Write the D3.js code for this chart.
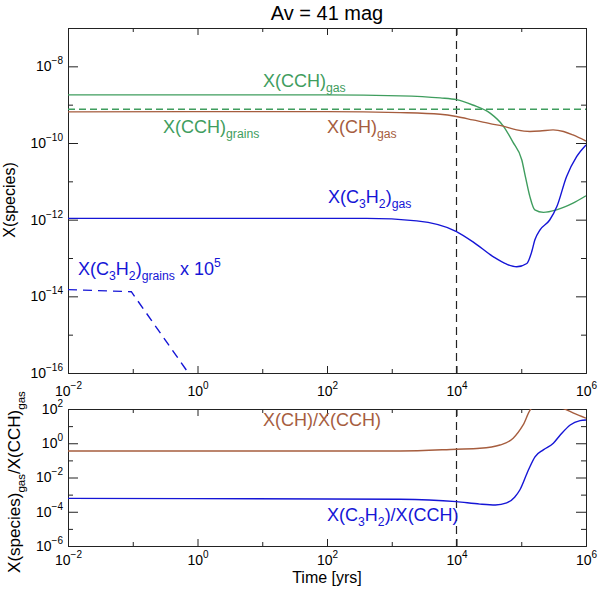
<!DOCTYPE html>
<html lang="en">
<head>
<meta charset="UTF-8">
<title>Av = 41 mag</title>
<script src="https://cdn.jsdelivr.net/npm/d3@7"></script>
<style>
  body { margin: 0; background: #fff; }
  svg { font-family: "Liberation Sans", Arial, Helvetica, sans-serif; }
</style>
</head>
<body>
<div id="chart"></div>
<script>
// ---- data ----
var xMajor = [1e-2, 1, 1e2, 1e4, 1e6];
var xMinor = [1e-1, 1e1, 1e3, 1e5];
var xExp = ["\u22122", "0", "2", "4", "6"];

var topMajor = [1e-16, 1e-14, 1e-12, 1e-10, 1e-8];
var topMinor = [1e-15, 1e-13, 1e-11, 1e-9];
var topExp = ["\u221216", "\u221214", "\u221212", "\u221210", "\u22128"];

var botMajor = [1e-6, 1e-4, 1e-2, 1, 1e2];
var botMinor = [1e-5, 1e-3, 1e-1, 1e1];
var botExp = ["\u22126", "\u22124", "\u22122", "0", "2"];

var markTime = 1e4;

// X(CCH) gas
var cchT = [1e-2, 1e2, 1.35e3, 5.6e3, 1e4, 1.78e4, 3.3e4, 5.25e4, 7.4e4, 1.02e5, 1.17e5, 1.36e5, 1.62e5, 2.2e5, 3.5e5, 6.3e5, 1e6];
var cchX = [1.8e-9, 1.8e-9, 1.7e-9, 1.5e-9, 1.35e-9, 9.8e-10, 6.0e-10, 2.8e-10, 1.07e-10, 3.6e-11, 1.23e-11, 4.0e-12, 1.8e-12, 1.55e-12, 1.8e-12, 2.7e-12, 4.2e-12];

// X(CCH) grains
var cchGrT = [1e-2, 1e6];
var cchGrX = [7.6e-10, 7.6e-10];

// X(CH) gas
var chT = [1e-2, 1e2, 1.35e3, 5.6e3, 1e4, 1.78e4, 3.3e4, 5.25e4, 8.5e4, 1.36e5, 1.95e5, 3.1e5, 4.5e5, 6.3e5, 1e6];
var chX = [6.5e-10, 6.6e-10, 6.2e-10, 5.6e-10, 4.9e-10, 4.0e-10, 3.2e-10, 2.75e-10, 2.2e-10, 2.0e-10, 2.05e-10, 2.2e-10, 2.0e-10, 1.62e-10, 1.12e-10];

// X(C3H2) gas
var c3T = [1e-2, 4.1e2, 2.43e3, 1e4, 1.82e4, 3.72e4, 5.96e4, 8.5e4, 1.22e5, 1.45e5, 1.62e5, 1.95e5, 2.75e5, 3.55e5, 5.0e5, 7.16e5, 1e6];
var c3X = [1.08e-12, 1.08e-12, 9.3e-13, 4.9e-13, 2.6e-13, 1.07e-13, 6.9e-14, 5.9e-14, 7.2e-14, 1.45e-13, 2.95e-13, 5.4e-13, 9.8e-13, 2.2e-12, 1.32e-11, 4.4e-11, 8.9e-11];

// X(C3H2) grains x 1e5
var c3GrT = [1e-2, 9.5e-2, 1];
var c3GrX = [1.5e-14, 1.32e-14, 4.6e-17];

// X(CH)/X(CCH)
var rChT = [1e-2, 1.35e3, 1e4, 2.3e4, 4.7e4, 7.5e4, 1.07e5, 1.45e5, 2.0e5, 2.8e5, 4.5e5, 6.3e5, 1e6];
var rChV = [0.355, 0.355, 0.45, 0.51, 0.79, 1.95, 11.7, 110, 140, 140, 105, 59, 29];

// X(C3H2)/X(CCH)
var rC3T = [1e-2, 1.35e3, 1e4, 2.3e4, 4.0e4, 5.96e4, 7.9e4, 9.5e4, 1.29e5, 1.63e5, 2.19e5, 3.13e5, 4.0e5, 5.7e5, 8.1e5, 1e6];
var rC3V = [6.0e-4, 5.4e-4, 3.9e-4, 2.8e-4, 2.5e-4, 3.3e-4, 7.1e-4, 1.86e-3, 2.75e-2, 0.162, 0.41, 1.0, 3.0, 11.7, 20.9, 22.9];

// ---- chart ----
var W = 600, H = 591;
var green = "#3f9d5e", brown = "#a65d3e", blue = "#1515d6";

var svg = d3.select("#chart").append("svg")
    .attr("width", W)
    .attr("height", H);

var x = d3.scaleLog().domain([1e-2, 1e6]).range([68, 586]);
var yTop = d3.scaleLog().domain([1e-16, 1e-7]).range([373, 28]);
var yBot = d3.scaleLog().domain([1e-6, 1e2]).range([546, 409]);

function supLabels(g, labels) {
    g.selectAll(".tick text").each(function (d, i) {
        var t = d3.select(this);
        t.text(null);
        t.append("tspan").text("10");
        t.append("tspan").attr("dy", -7).attr("font-size", 10).text(labels[i]);
    });
}

function styleAxis(g) {
    g.select(".domain").attr("stroke", "#222");
    g.selectAll(".tick line").attr("stroke", "#222");
    g.selectAll(".tick text").attr("fill", "#000").attr("font-size", 14)
        .attr("font-family", "Liberation Sans, Arial, sans-serif");
}

function drawPanel(y, yMajor, yMinor, yExp, xPad, id) {
    var r = y.range(), x0 = x.range()[0], x1 = x.range()[1];
    var bottom = r[0], top = r[1];

    var gx = svg.append("g").attr("transform", "translate(0," + bottom + ")")
        .call(d3.axisBottom(x).tickValues(xMajor).tickSize(-7).tickSizeOuter(0).tickPadding(xPad).tickFormat(""));
    gx.call(styleAxis); supLabels(gx, xExp);
    svg.append("g").attr("transform", "translate(0," + bottom + ")")
        .call(d3.axisBottom(x).tickValues(xMinor).tickSize(-4).tickSizeOuter(0).tickFormat(""))
        .call(styleAxis);
    svg.append("g").attr("transform", "translate(0," + top + ")")
        .call(d3.axisTop(x).tickValues(xMajor).tickSize(-7).tickSizeOuter(0).tickFormat(""))
        .call(styleAxis);
    svg.append("g").attr("transform", "translate(0," + top + ")")
        .call(d3.axisTop(x).tickValues(xMinor).tickSize(-4).tickSizeOuter(0).tickFormat(""))
        .call(styleAxis);

    var gy = svg.append("g").attr("transform", "translate(" + x0 + ",0)")
        .call(d3.axisLeft(y).tickValues(yMajor).tickSize(-10).tickSizeOuter(0).tickPadding(5).tickFormat(""));
    gy.call(styleAxis); supLabels(gy, yExp);
    svg.append("g").attr("transform", "translate(" + x0 + ",0)")
        .call(d3.axisLeft(y).tickValues(yMinor).tickSize(-5).tickSizeOuter(0).tickFormat(""))
        .call(styleAxis);
    svg.append("g").attr("transform", "translate(" + x1 + ",0)")
        .call(d3.axisRight(y).tickValues(yMajor).tickSize(-10).tickSizeOuter(0).tickFormat(""))
        .call(styleAxis);
    svg.append("g").attr("transform", "translate(" + x1 + ",0)")
        .call(d3.axisRight(y).tickValues(yMinor).tickSize(-5).tickSizeOuter(0).tickFormat(""))
        .call(styleAxis);

    svg.append("clipPath").attr("id", id)
        .append("rect").attr("x", x0).attr("y", top).attr("width", x1 - x0).attr("height", bottom - top);

    var plot = svg.append("g").attr("clip-path", "url(#" + id + ")");

    plot.append("line")
        .attr("x1", x(markTime)).attr("x2", x(markTime))
        .attr("y1", top).attr("y2", bottom)
        .attr("stroke", "#222").attr("stroke-width", 1.2)
        .attr("stroke-dasharray", "8,5");
    return plot;
}

function curve(plot, y, t, v, color, dash, interp) {
    var line = d3.line()
        .x(function (d) { return x(d[0]); })
        .y(function (d) { return y(d[1]); })
        .curve(interp || d3.curveMonotoneX);
    plot.append("path")
        .datum(d3.zip(t, v))
        .attr("d", line)
        .attr("fill", "none")
        .attr("stroke", color)
        .attr("stroke-width", 1.4)
        .attr("stroke-dasharray", dash || null);
}

// parts: [text, "sub" | "sup" | ""]
function label(x0, y0, parts, color, size) {
    var t = svg.append("text").attr("x", x0).attr("y", y0)
        .attr("fill", color).attr("font-size", size);
    var shift = 0;
    parts.forEach(function (p) {
        var target = p[1] === "sub" ? 5 : (p[1] === "sup" ? -8 : 0);
        t.append("tspan")
            .attr("dy", target - shift)
            .attr("font-size", p[1] ? size * 0.68 : size)
            .text(p[0]);
        shift = target;
    });
    return t;
}

// top panel
var pTop = drawPanel(yTop, topMajor, topMinor, topExp, 13, "clipTop");
curve(pTop, yTop, cchGrT, cchGrX, green, "7,4", d3.curveLinear);
curve(pTop, yTop, cchT, cchX, green);
curve(pTop, yTop, chT, chX, brown);
curve(pTop, yTop, c3T, c3X, blue);
curve(pTop, yTop, c3GrT, c3GrX, blue, "9,6", d3.curveLinear);

// bottom panel
var pBot = drawPanel(yBot, botMajor, botMinor, botExp, 9, "clipBot");
curve(pBot, yBot, rChT, rChV, brown);
curve(pBot, yBot, rC3T, rC3V, blue);

// title and axis titles
svg.append("text").attr("x", 327).attr("y", 20).attr("text-anchor", "middle")
    .attr("font-size", 20).text("Av = 41 mag");
svg.append("text").attr("x", 327).attr("y", 583).attr("text-anchor", "middle")
    .attr("font-size", 16).text("Time [yrs]");
label(0, 0, [["X(species)", ""]], "#000", 16)
    .attr("text-anchor", "middle")
    .attr("transform", "translate(15,200) rotate(-90)");
label(0, 0, [["X(species)", ""], ["gas", "sub"], ["/X(CCH)", ""], ["gas", "sub"]], "#000", 17)
    .attr("text-anchor", "middle")
    .attr("transform", "translate(20,482) rotate(-90)");

// series labels
label(263, 87, [["X(CCH)", ""], ["gas", "sub"]], green, 18);
label(163, 133, [["X(CCH)", ""], ["grains", "sub"]], green, 18);
label(327, 133, [["X(CH)", ""], ["gas", "sub"]], brown, 18);
label(328, 203, [["X(C", ""], ["3", "sub"], ["H", ""], ["2", "sub"], [")", ""], ["gas", "sub"]], blue, 18);
label(78, 275, [["X(C", ""], ["3", "sub"], ["H", ""], ["2", "sub"], [")", ""], ["grains", "sub"], [" x 10", ""], ["5", "sup"]], blue, 18);
label(263, 426, [["X(CH)/X(CCH)", ""]], brown, 18);
label(327, 521, [["X(C", ""], ["3", "sub"], ["H", ""], ["2", "sub"], [")/X(CCH)", ""]], blue, 18);
</script>
</body>
</html>
